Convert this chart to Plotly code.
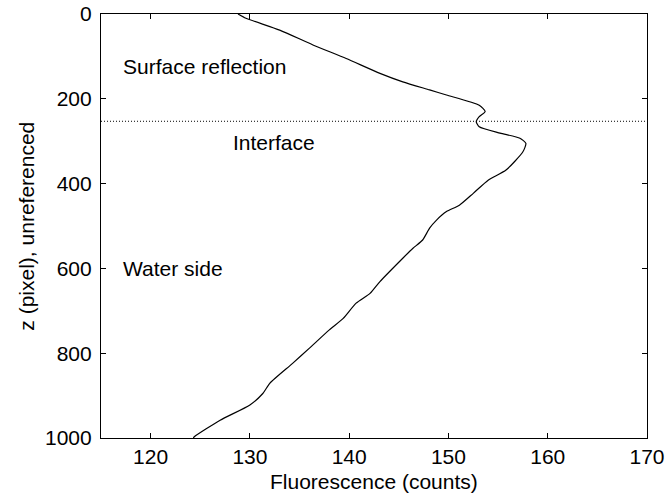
import plotly.graph_objects as go

# Fluorescence profile versus depth (pixel rows)
z_pixel = [0, 10, 38, 73, 105, 140, 160, 179, 191, 215, 230, 242, 254, 266, 281,
           293, 305, 325, 368, 392, 423, 451, 466, 486, 505, 533, 553, 576, 631,
           659, 682, 718, 745, 788, 824, 871, 895, 922, 958, 997, 1000]
fluorescence = [128.8, 129.6, 133.0, 136.35, 139.7, 143.1, 145.4, 148.1, 149.8,
                153.1, 153.7, 153.1, 152.8, 153.1, 155.2, 157.2, 157.8, 157.5,
                155.8, 154.0, 152.5, 151.1, 149.8, 148.8, 148.1, 147.4, 146.4,
                145.4, 143.1, 142.1, 140.7, 139.4, 138.0, 136.0, 134.3, 132.0,
                131.3, 130.0, 127.0, 124.4, 124.3]

interface_z = 253
x_range = [115, 170]
y_range = [1000, 0]
x_ticks = [120, 130, 140, 150, 160, 170]
y_ticks = [0, 200, 400, 600, 800, 1000]

labels = [
    ("Surface reflection", 117.0, 123),
    ("Interface", 128.1, 304),
    ("Water side", 117.0, 601),
]

font_family = "Liberation Sans, Arial, sans-serif"
font_size = 21

fig = go.Figure()

fig.add_trace(go.Scatter(
    x=x_range, y=[interface_z, interface_z], mode="lines",
    line=dict(color="black", width=1, dash="1px,2px"),
    hoverinfo="skip", showlegend=False,
))

fig.add_trace(go.Scatter(
    x=fluorescence, y=z_pixel, mode="lines",
    line=dict(color="black", width=1.2, shape="spline", smoothing=0.6),
    showlegend=False,
))

for text, x, y in labels:
    fig.add_annotation(
        x=x, y=y, text=text, showarrow=False, xanchor="left", yanchor="middle",
        font=dict(family=font_family, size=font_size, color="black"),
    )

axis_common = dict(
    showgrid=False, zeroline=False, showline=True, linecolor="black",
    linewidth=1.2, mirror="ticks", ticks="inside", ticklen=5,
    tickcolor="black", tickwidth=1, automargin=False,
    tickfont=dict(family=font_family, size=font_size, color="black"),
)

fig.update_xaxes(range=x_range, tickvals=x_ticks, **axis_common)
fig.update_yaxes(range=y_range, tickvals=y_ticks, ticklabelstandoff=4,
                 **axis_common)

# Axis titles placed in paper coordinates
fig.add_annotation(
    text="Fluorescence (counts)", xref="paper", yref="paper",
    x=0.5, y=-0.102, xanchor="center", yanchor="middle", showarrow=False,
    font=dict(family=font_family, size=font_size, color="black"),
)
fig.add_annotation(
    text="z (pixel), unreferenced", xref="paper", yref="paper",
    x=-0.138, y=0.5, xanchor="center", yanchor="middle", showarrow=False,
    textangle=-90,
    font=dict(family=font_family, size=font_size, color="black"),
)

fig.update_layout(
    width=666, height=497,
    margin=dict(l=101, r=19, t=14, b=59),
    plot_bgcolor="white", paper_bgcolor="white",
)

fig.write_html("out.html")
